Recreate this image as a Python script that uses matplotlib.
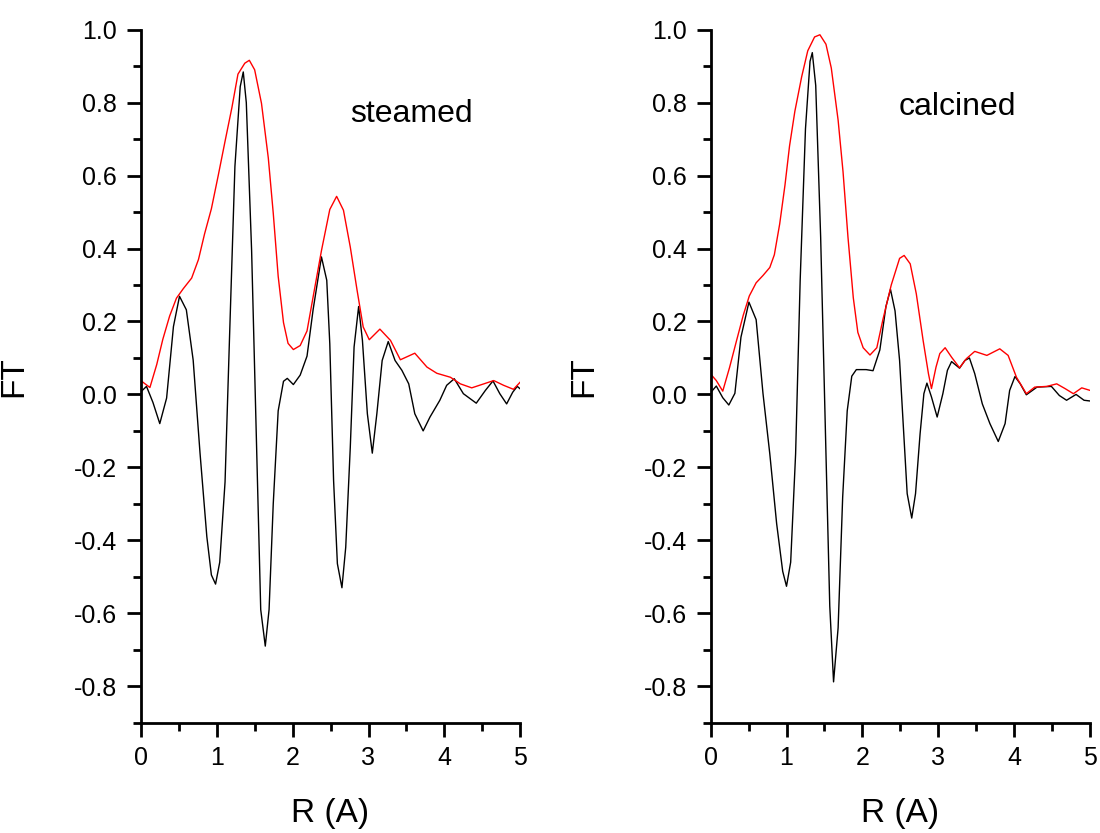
import numpy as np
import matplotlib.pyplot as plt
from matplotlib.ticker import MultipleLocator

plt.rcParams['font.family'] = ['Liberation Sans', 'DejaVu Sans']

# steamed: imaginary part (black) and magnitude (red)
st_im_r = [0.00, 0.075, 0.16, 0.25, 0.34, 0.43, 0.51, 0.60, 0.69, 0.78, 0.87, 0.93, 0.985,
           1.04, 1.11, 1.17, 1.24, 1.31, 1.35, 1.39, 1.46, 1.53, 1.58, 1.64, 1.69, 1.745,
           1.81, 1.88, 1.93, 2.01, 2.10, 2.19, 2.27, 2.38, 2.45, 2.49, 2.54, 2.59, 2.65,
           2.70, 2.76, 2.81, 2.87, 2.92, 2.985, 3.05, 3.11, 3.18, 3.26, 3.35, 3.44, 3.53,
           3.61, 3.72, 3.81, 3.94, 4.03, 4.13, 4.25, 4.42, 4.54, 4.64, 4.73, 4.82, 4.90,
           4.96, 5.00]
st_im = [0.007, 0.022, -0.022, -0.08, -0.01, 0.186, 0.269, 0.232, 0.094, -0.16, -0.39, -0.495, -0.52,
         -0.46, -0.24, 0.163, 0.625, 0.844, 0.884, 0.80, 0.394, -0.18, -0.59, -0.69, -0.59, -0.30,
         -0.045, 0.036, 0.044, 0.027, 0.053, 0.105, 0.232, 0.377, 0.313, 0.139, -0.236, -0.464, -0.53,
         -0.419, -0.145, 0.13, 0.241, 0.148, -0.053, -0.161, -0.053, 0.093, 0.145, 0.093, 0.066, 0.029,
         -0.053, -0.10, -0.062, -0.016, 0.025, 0.043, 0.002, -0.024, 0.011, 0.037, 0.002, -0.026, 0.006,
         0.022, 0.015]
st_mag_r = [0.00, 0.05, 0.12, 0.21, 0.29, 0.38, 0.47, 0.56, 0.67, 0.76, 0.84, 0.93, 1.02,
            1.11, 1.20, 1.28, 1.37, 1.43, 1.50, 1.59, 1.68, 1.745, 1.81, 1.88, 1.94, 2.01,
            2.10, 2.19, 2.27, 2.38, 2.49, 2.58, 2.67, 2.76, 2.85, 2.93, 3.01, 3.15, 3.29,
            3.42, 3.61, 3.77, 3.90, 4.08, 4.21, 4.36, 4.52, 4.65, 4.78, 4.91, 5.00]
st_mag = [0.038, 0.03, 0.019, 0.082, 0.151, 0.215, 0.264, 0.29, 0.319, 0.37, 0.44, 0.509, 0.60,
          0.694, 0.786, 0.878, 0.908, 0.916, 0.89, 0.798, 0.648, 0.497, 0.324, 0.197, 0.14, 0.123,
          0.134, 0.174, 0.267, 0.394, 0.507, 0.543, 0.505, 0.404, 0.285, 0.185, 0.15, 0.179, 0.148,
          0.095, 0.113, 0.075, 0.058, 0.047, 0.029, 0.018, 0.029, 0.038, 0.025, 0.014, 0.034]

# calcined
ca_im_r = [0.00, 0.075, 0.16, 0.24, 0.32, 0.40, 0.505, 0.60, 0.69, 0.78, 0.87, 0.95, 1.00,
           1.055, 1.12, 1.18, 1.25, 1.31, 1.34, 1.385, 1.45, 1.52, 1.57, 1.62, 1.68, 1.74,
           1.80, 1.86, 1.92, 2.05, 2.14, 2.23, 2.31, 2.37, 2.43, 2.49, 2.54, 2.59, 2.65,
           2.70, 2.76, 2.81, 2.85, 2.91, 2.985, 3.06, 3.12, 3.175, 3.28, 3.35, 3.41, 3.48,
           3.58, 3.68, 3.79, 3.88, 3.94, 4.01, 4.08, 4.16, 4.30, 4.49, 4.595, 4.69, 4.815,
           4.92, 5.00]
ca_im = [0.005, 0.023, -0.009, -0.029, 0.003, 0.157, 0.253, 0.205, 0.003, -0.163, -0.354, -0.485, -0.526,
         -0.46, -0.163, 0.312, 0.728, 0.913, 0.937, 0.847, 0.431, -0.163, -0.58, -0.788, -0.64, -0.282,
         -0.045, 0.05, 0.068, 0.068, 0.065, 0.122, 0.241, 0.288, 0.229, 0.093, -0.09, -0.272, -0.339,
         -0.272, -0.108, 0.002, 0.031, -0.007, -0.062, 0.002, 0.066, 0.09, 0.072, 0.093, 0.10, 0.057,
         -0.026, -0.08, -0.129, -0.08, 0.011, 0.049, 0.029, -0.001, 0.02, 0.022, -0.003, -0.016, 0.0,
         -0.016, -0.018]
ca_mag_r = [0.00, 0.075, 0.16, 0.25, 0.34, 0.43, 0.51, 0.60, 0.69, 0.78, 0.84, 0.91, 0.98,
            1.04, 1.11, 1.20, 1.28, 1.37, 1.44, 1.52, 1.59, 1.68, 1.745, 1.81, 1.88, 1.94,
            2.01, 2.10, 2.19, 2.27, 2.38, 2.49, 2.55, 2.63, 2.71, 2.80, 2.87, 2.91, 2.97,
            3.02, 3.09, 3.175, 3.28, 3.37, 3.48, 3.64, 3.81, 3.92, 4.03, 4.16, 4.27, 4.43,
            4.56, 4.67, 4.78, 4.89, 5.00]
ca_mag = [0.056, 0.038, 0.009, 0.074, 0.146, 0.217, 0.27, 0.306, 0.326, 0.348, 0.383, 0.467, 0.574,
          0.681, 0.776, 0.871, 0.942, 0.98, 0.986, 0.96, 0.895, 0.752, 0.61, 0.431, 0.265, 0.17,
          0.128, 0.108, 0.128, 0.205, 0.30, 0.373, 0.381, 0.358, 0.276, 0.148, 0.057, 0.016, 0.075,
          0.112, 0.128, 0.102, 0.073, 0.098, 0.118, 0.107, 0.125, 0.107, 0.047, 0.002, 0.02, 0.022,
          0.029, 0.016, 0.002, 0.018, 0.011]

yticks = [-0.8, -0.6, -0.4, -0.2, 0.0, 0.2, 0.4, 0.6, 0.8, 1.0]

panels = [
    (st_im_r, st_im, st_mag_r, st_mag, 'steamed', 2.76, 0.77),
    (ca_im_r, ca_im, ca_mag_r, ca_mag, 'calcined', 2.48, 0.787),
]

fig = plt.figure(figsize=(11, 8.33), dpi=100)
lefts = [0.128, 0.646]

for left, (xr, yi, mr, ym, name, tx, ty) in zip(lefts, panels):
    ax = fig.add_axes([left, 0.1324, 0.345, 0.832])
    ax.plot(xr, yi, color='black', lw=1.0)
    ax.plot(mr, ym, color='#ff0000', lw=1.0)
    ax.text(tx, ty, name, fontsize=23, ha='left', va='center')
    ax.set_xlim(0, 5)
    ax.set_ylim(-0.9, 1.0)
    ax.xaxis.set_major_locator(MultipleLocator(1))
    ax.xaxis.set_minor_locator(MultipleLocator(0.5))
    ax.yaxis.set_minor_locator(MultipleLocator(0.1))
    ax.set_yticks(yticks)
    ax.set_yticklabels(['%.1f' % v for v in yticks])
    ax.spines['top'].set_visible(False)
    ax.spines['right'].set_visible(False)
    for s in ['left', 'bottom']:
        ax.spines[s].set_linewidth(2)
    ax.tick_params(which='major', direction='out', length=10, width=2, labelsize=18, pad=7)
    ax.tick_params(which='minor', direction='out', length=6, width=2)
    ax.set_xlabel('R (A)', fontsize=24, labelpad=20)
    ax.set_ylabel('FT', fontsize=24, labelpad=32)

fig.savefig('out.png', dpi=100)
